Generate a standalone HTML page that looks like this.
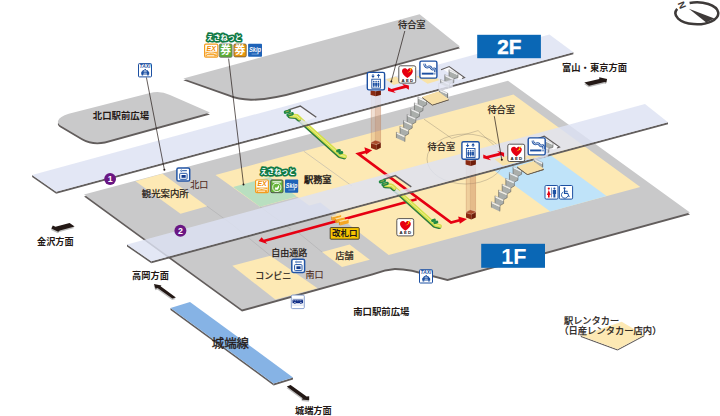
<!DOCTYPE html>
<html lang="ja"><head><meta charset="utf-8"><title>駅構内図</title>
<style>
html,body{margin:0;padding:0;background:#fff;}
body{width:720px;height:416px;overflow:hidden;font-family:"Liberation Sans","Noto Sans CJK JP",sans-serif;}
svg{display:block;}
svg text{font-family:"Liberation Sans","Noto Sans CJK JP",sans-serif;}
</style></head>
<body>
<svg width="720" height="416" viewBox="0 0 720 416">
<rect width="720" height="416" fill="#fff"/>
<path d="M58,121 Q59.5,116.5 68.75,113.75 L150,93 Q160,90.3 170,95 L210,112.6 L105,141.6 Q92,144.2 82,138.3 L60.5,125.6 Q57.2,123.4 58,121 Z" fill="#625d5c" transform="translate(0,1.9)"/>
<path d="M58,121 Q59.5,116.5 68.75,113.75 L150,93 Q160,90.3 170,95 L210,112.6 L105,141.6 Q92,144.2 82,138.3 L60.5,125.6 Q57.2,123.4 58,121 Z" fill="#c9c9ca"/>
<path d="M183.3,78.4 L419.6,14.2 L460,46.4 L300,90.3 Q272,98.6 251,98.8 Q238,98.3 229,94.6 Z" fill="#625d5c" transform="translate(0,1.9)"/>
<path d="M183.3,78.4 L419.6,14.2 L460,46.4 L300,90.3 Q272,98.6 251,98.8 Q238,98.3 229,94.6 Z" fill="#c9c9ca"/>
<path d="M84,194.6 L508,80.8 L690,212.5 L447.5,278.9 L412,269.8 L403,268.4 L395,268.1 L385,269.4 L372,273.4 L242,309.6 Z" fill="#625d5c" transform="translate(0,2.0)"/>
<path d="M84,194.6 L508,80.8 L690,212.5 L447.5,278.9 L412,269.8 L403,268.4 L395,268.1 L385,269.4 L372,273.4 L242,309.6 Z" fill="#c9c9ca"/>
<polygon points="135.5,181.2 162.5,173.8 207,206.2 180.5,213.7" fill="#fde9b4" />
<polygon points="215.5,175 513.4,94.6 640.3,187 388.7,255 320.3,202.5 309.2,205.5 297.2,196.8 260,206.8" fill="#fde9b4" />
<polygon points="232.3,265.8 270.4,255.7 317.5,288.3 275.3,299.6" fill="#fde9b4" />
<polygon points="322.1,252.1 349.6,244.6 369.8,259.7 342,267" fill="#fde9b4" />
<polygon points="233.1,186.9 270,176.9 296.9,196.6 260,206.8" fill="#b9dfc0" />
<polygon points="491.4,168.6 547.9,153.3 606.6,196.1 550.3,211.5" fill="#bfe3f9" />
<path d="M303.75,151.20 L352.00,186.00" stroke="#a9a9aa" stroke-width="0.5" fill="none"/>
<ellipse cx="465.5" cy="159" rx="38.5" ry="25" stroke="#7d7468" stroke-width="0.4" fill="none" stroke-opacity="0.85"/>
<path d="M424,119.2 L451.7,138.4 L478.1,130.6 L496,147.2" stroke="#7d7468" stroke-width="0.4" fill="none" stroke-opacity="0.85"/>
<path d="M207.00,206.20 L232.30,224.60" stroke="#a9a9aa" stroke-width="0.5" fill="none"/>
<path d="M260.00,206.80 L291.00,229.30" stroke="#a9a9aa" stroke-width="0.5" fill="none"/>
<path d="M232.30,224.60 L270.40,255.70" stroke="#a9a9aa" stroke-width="0.5" fill="none"/>
<path d="M297.50,232.00 L322.10,252.10" stroke="#a9a9aa" stroke-width="0.5" fill="none"/>
<path d="M368.0,151.3 L358.3,153.9 L451.1,222.5 L460.5,220.0" fill="none" stroke="#e60012" stroke-width="2.7" stroke-linejoin="miter"/>
<polygon points="372.2,150.2 364.4,147.2 366,154.6" fill="#e60012" />
<polygon points="467,218.9 458.2,216.4 459.8,223.7" fill="#e60012" />
<path d="M416.6,199.2 L263.8,241.0" fill="none" stroke="#e60012" stroke-width="2.7" stroke-linejoin="miter"/>
<polygon points="258.6,241 261.6,237.2 267.3,244" fill="#e60012" />
<polygon points="331.3,216.2 332.5,217.2 332.5,220.8 331.3,219.8" fill="#dd8c14" />
<polygon points="332.5,217.2 341.1,214.9 341.1,218.5 332.5,220.8" fill="#f5a623" />
<polygon points="331.3,216.2 339.9,213.9 341.1,214.9 332.5,217.2" fill="#fde3a6" />
<polygon points="335.1,218.6 336.3,219.6 336.3,223.2 335.1,222.2" fill="#dd8c14" />
<polygon points="336.3,219.6 344.9,217.3 344.9,220.9 336.3,223.2" fill="#f5a623" />
<polygon points="335.1,218.6 343.7,216.3 344.9,217.3 336.3,219.6" fill="#fde3a6" />
<polygon points="338.9,221 340.1,222 340.1,225.6 338.9,224.6" fill="#dd8c14" />
<polygon points="340.1,222 348.7,219.7 348.7,223.3 340.1,225.6" fill="#f5a623" />
<polygon points="338.9,221 347.5,218.7 348.7,219.7 340.1,222" fill="#fde3a6" />
<polygon points="288.5,109.9 300.3,106 316.3,117.3 304.5,121.2" fill="#f1f2fa" />
<polygon points="418,98.4 426.6,102.3 426.6,104.7 423,106.65 418,104.38" fill="#aaaeab" />
<polygon points="418,96.9 426.6,100.8 426.6,102.3 418,98.4" fill="#f2f2f2" />
<path d="M418.00,96.90 L418.00,104.38 M426.60,100.80 L426.60,104.70 L423.00,106.65" fill="none" stroke="#4c4c4d" stroke-width="0.5"/>
<path d="M418.00,96.90 L426.60,100.80" fill="none" stroke="#4c4c4d" stroke-width="0.3" stroke-opacity="0.6"/>
<polygon points="414.4,104.25 423,108.15 423,110.55 419.4,112.5 414.4,110.23" fill="#aaaeab" />
<polygon points="414.4,102.75 423,106.65 423,108.15 414.4,104.25" fill="#f2f2f2" />
<path d="M414.40,102.75 L414.40,110.23 M423.00,106.65 L423.00,110.55 L419.40,112.50" fill="none" stroke="#4c4c4d" stroke-width="0.5"/>
<path d="M414.40,102.75 L423.00,106.65" fill="none" stroke="#4c4c4d" stroke-width="0.3" stroke-opacity="0.6"/>
<polygon points="410.8,110.1 419.4,114 419.4,116.4 415.8,118.35 410.8,116.08" fill="#aaaeab" />
<polygon points="410.8,108.6 419.4,112.5 419.4,114 410.8,110.1" fill="#f2f2f2" />
<path d="M410.80,108.60 L410.80,116.08 M419.40,112.50 L419.40,116.40 L415.80,118.35" fill="none" stroke="#4c4c4d" stroke-width="0.5"/>
<path d="M410.80,108.60 L419.40,112.50" fill="none" stroke="#4c4c4d" stroke-width="0.3" stroke-opacity="0.6"/>
<polygon points="407.2,115.95 415.8,119.85 415.8,122.25 412.2,124.2 407.2,121.93" fill="#aaaeab" />
<polygon points="407.2,114.45 415.8,118.35 415.8,119.85 407.2,115.95" fill="#f2f2f2" />
<path d="M407.20,114.45 L407.20,121.93 M415.80,118.35 L415.80,122.25 L412.20,124.20" fill="none" stroke="#4c4c4d" stroke-width="0.5"/>
<path d="M407.20,114.45 L415.80,118.35" fill="none" stroke="#4c4c4d" stroke-width="0.3" stroke-opacity="0.6"/>
<polygon points="403.6,121.8 412.2,125.7 412.2,128.1 408.6,130.05 403.6,127.78" fill="#aaaeab" />
<polygon points="403.6,120.3 412.2,124.2 412.2,125.7 403.6,121.8" fill="#f2f2f2" />
<path d="M403.60,120.30 L403.60,127.78 M412.20,124.20 L412.20,128.10 L408.60,130.05" fill="none" stroke="#4c4c4d" stroke-width="0.5"/>
<path d="M403.60,120.30 L412.20,124.20" fill="none" stroke="#4c4c4d" stroke-width="0.3" stroke-opacity="0.6"/>
<polygon points="400,127.65 408.6,131.55 408.6,133.95 405,135.9 400,133.63" fill="#aaaeab" />
<polygon points="400,126.15 408.6,130.05 408.6,131.55 400,127.65" fill="#f2f2f2" />
<path d="M400.00,126.15 L400.00,133.63 M408.60,130.05 L408.60,133.95 L405.00,135.90" fill="none" stroke="#4c4c4d" stroke-width="0.5"/>
<path d="M400.00,126.15 L408.60,130.05" fill="none" stroke="#4c4c4d" stroke-width="0.3" stroke-opacity="0.6"/>
<polygon points="396.4,133.5 405,137.4 405,139.8 404.8,141.8 396.4,137.9" fill="#aaaeab" />
<polygon points="396.4,132 405,135.9 405,137.4 396.4,133.5" fill="#f2f2f2" />
<path d="M396.40,132.00 L396.40,137.90 M405.00,135.90 L405.00,139.80 L404.80,141.80" fill="none" stroke="#4c4c4d" stroke-width="0.5"/>
<path d="M396.40,132.00 L405.00,135.90" fill="none" stroke="#4c4c4d" stroke-width="0.3" stroke-opacity="0.6"/>
<polygon points="439.6,90.9 447.6,94.6 447.6,97 447.4,97.8 439.6,94.1" fill="#aaaeab" />
<polygon points="439.6,89.4 447.6,93.1 447.6,94.6 439.6,90.9" fill="#f2f2f2" />
<path d="M439.60,89.40 L439.60,94.10 M447.60,93.10 L447.60,97.00 L447.40,97.80" fill="none" stroke="#4c4c4d" stroke-width="0.5"/>
<path d="M439.60,89.40 L447.60,93.10" fill="none" stroke="#4c4c4d" stroke-width="0.3" stroke-opacity="0.6"/>
<polygon points="422.3,97 432.4,104.4 432.4,105.5 422.3,98.1" fill="#6b5f50" />
<polygon points="432.4,104.4 448.6,99.2 448.6,100.3 432.4,105.5" fill="#6b5f50" />
<polygon points="422.3,97 438.6,91.6 448.6,99.2 432.4,104.4" fill="#f7dfa6" />
<rect x="371.0" y="95.5" width="4.4" height="47.0" fill="#c9865a" fill-opacity="0.26"/>
<rect x="375.4" y="95.5" width="5.4" height="45.8" fill="#c9865a" fill-opacity="0.46"/>
<path d="M371.2,95.5 V141.5" stroke="#b5704a" stroke-opacity="0.5" stroke-width="0.45" fill="none"/>
<path d="M375.4,95.5 V141.5" stroke="#b5704a" stroke-opacity="0.5" stroke-width="0.45" fill="none"/>
<path d="M380.6,95.5 V141.5" stroke="#b5704a" stroke-opacity="0.5" stroke-width="0.45" fill="none"/>
<polygon points="371,142.6 376.3,144.4 376.3,150 371,148" fill="#8a2a12" />
<polygon points="376.3,144.4 380.8,142.2 380.8,147.8 376.3,150" fill="#6f1d0a" />
<polygon points="371,142.4 375.3,140.2 380.8,141.8 380.8,142.6 376.3,144.6 371,143.2" fill="#a94a2a" stroke="#e9c9b8" stroke-width="0.4"/>
<path d="M289.8,116.3 L295.9,116.8 L339.5,155.9 L344.1,157.2" fill="none" stroke="#2f7d3c" stroke-width="4.5" stroke-linecap="round" stroke-linejoin="round"/>
<path d="M290.6,115.6 L296.8,116.0 L340.4,155.2 L345.0,156.4" fill="none" stroke="#d5e04a" stroke-width="3.8" stroke-linecap="round" stroke-linejoin="round"/>
<path d="M290.6,115.6 L296.8,116.0 L340.4,155.2 L345.0,156.4" fill="none" stroke="#eef39a" stroke-width="0.9" stroke-linecap="round" stroke-linejoin="round"/>
<path d="M337.6,151.0 L339.4,150.5" fill="none" stroke="#1f8a44" stroke-width="3.0" stroke-linecap="round"/>
<path d="M339.8,153.0 L341.8,152.5" fill="none" stroke="#1f8a44" stroke-width="3.0" stroke-linecap="round"/>
<polygon points="513,168 521.6,171.9 521.6,174.3 518,176.25 513,173.98" fill="#aaaeab" />
<polygon points="513,166.5 521.6,170.4 521.6,171.9 513,168" fill="#f2f2f2" />
<path d="M513.00,166.50 L513.00,173.98 M521.60,170.40 L521.60,174.30 L518.00,176.25" fill="none" stroke="#4c4c4d" stroke-width="0.5"/>
<path d="M513.00,166.50 L521.60,170.40" fill="none" stroke="#4c4c4d" stroke-width="0.3" stroke-opacity="0.6"/>
<polygon points="509.4,173.85 518,177.75 518,180.15 514.4,182.1 509.4,179.83" fill="#aaaeab" />
<polygon points="509.4,172.35 518,176.25 518,177.75 509.4,173.85" fill="#f2f2f2" />
<path d="M509.40,172.35 L509.40,179.83 M518.00,176.25 L518.00,180.15 L514.40,182.10" fill="none" stroke="#4c4c4d" stroke-width="0.5"/>
<path d="M509.40,172.35 L518.00,176.25" fill="none" stroke="#4c4c4d" stroke-width="0.3" stroke-opacity="0.6"/>
<polygon points="505.8,179.7 514.4,183.6 514.4,186 510.8,187.95 505.8,185.68" fill="#aaaeab" />
<polygon points="505.8,178.2 514.4,182.1 514.4,183.6 505.8,179.7" fill="#f2f2f2" />
<path d="M505.80,178.20 L505.80,185.68 M514.40,182.10 L514.40,186.00 L510.80,187.95" fill="none" stroke="#4c4c4d" stroke-width="0.5"/>
<path d="M505.80,178.20 L514.40,182.10" fill="none" stroke="#4c4c4d" stroke-width="0.3" stroke-opacity="0.6"/>
<polygon points="502.2,185.55 510.8,189.45 510.8,191.85 507.2,193.8 502.2,191.53" fill="#aaaeab" />
<polygon points="502.2,184.05 510.8,187.95 510.8,189.45 502.2,185.55" fill="#f2f2f2" />
<path d="M502.20,184.05 L502.20,191.53 M510.80,187.95 L510.80,191.85 L507.20,193.80" fill="none" stroke="#4c4c4d" stroke-width="0.5"/>
<path d="M502.20,184.05 L510.80,187.95" fill="none" stroke="#4c4c4d" stroke-width="0.3" stroke-opacity="0.6"/>
<polygon points="498.6,191.4 507.2,195.3 507.2,197.7 503.6,199.65 498.6,197.38" fill="#aaaeab" />
<polygon points="498.6,189.9 507.2,193.8 507.2,195.3 498.6,191.4" fill="#f2f2f2" />
<path d="M498.60,189.90 L498.60,197.38 M507.20,193.80 L507.20,197.70 L503.60,199.65" fill="none" stroke="#4c4c4d" stroke-width="0.5"/>
<path d="M498.60,189.90 L507.20,193.80" fill="none" stroke="#4c4c4d" stroke-width="0.3" stroke-opacity="0.6"/>
<polygon points="495,197.25 503.6,201.15 503.6,203.55 500,205.5 495,203.23" fill="#aaaeab" />
<polygon points="495,195.75 503.6,199.65 503.6,201.15 495,197.25" fill="#f2f2f2" />
<path d="M495.00,195.75 L495.00,203.23 M503.60,199.65 L503.60,203.55 L500.00,205.50" fill="none" stroke="#4c4c4d" stroke-width="0.5"/>
<path d="M495.00,195.75 L503.60,199.65" fill="none" stroke="#4c4c4d" stroke-width="0.3" stroke-opacity="0.6"/>
<polygon points="491.4,203.1 500,207 500,209.4 499.8,211.4 491.4,207.5" fill="#aaaeab" />
<polygon points="491.4,201.6 500,205.5 500,207 491.4,203.1" fill="#f2f2f2" />
<path d="M491.40,201.60 L491.40,207.50 M500.00,205.50 L500.00,209.40 L499.80,211.40" fill="none" stroke="#4c4c4d" stroke-width="0.5"/>
<path d="M491.40,201.60 L500.00,205.50" fill="none" stroke="#4c4c4d" stroke-width="0.3" stroke-opacity="0.6"/>
<polygon points="534.6,160.5 542.6,164.2 542.6,166.6 542.4,167.4 534.6,163.7" fill="#aaaeab" />
<polygon points="534.6,159 542.6,162.7 542.6,164.2 534.6,160.5" fill="#f2f2f2" />
<path d="M534.60,159.00 L534.60,163.70 M542.60,162.70 L542.60,166.60 L542.40,167.40" fill="none" stroke="#4c4c4d" stroke-width="0.5"/>
<path d="M534.60,159.00 L542.60,162.70" fill="none" stroke="#4c4c4d" stroke-width="0.3" stroke-opacity="0.6"/>
<polygon points="517.3,166.6 527.4,174 527.4,175.1 517.3,167.7" fill="#6b5f50" />
<polygon points="527.4,174 543.6,168.8 543.6,169.9 527.4,175.1" fill="#6b5f50" />
<polygon points="517.3,166.6 533.6,161.2 543.6,168.8 527.4,174" fill="#f7dfa6" />
<rect x="466.0" y="165.1" width="4.4" height="47.0" fill="#c9865a" fill-opacity="0.26"/>
<rect x="470.4" y="165.1" width="5.4" height="45.8" fill="#c9865a" fill-opacity="0.46"/>
<path d="M466.2,165.1 V211.1" stroke="#b5704a" stroke-opacity="0.5" stroke-width="0.45" fill="none"/>
<path d="M470.4,165.1 V211.1" stroke="#b5704a" stroke-opacity="0.5" stroke-width="0.45" fill="none"/>
<path d="M475.6,165.1 V211.1" stroke="#b5704a" stroke-opacity="0.5" stroke-width="0.45" fill="none"/>
<polygon points="466,212.2 471.3,214 471.3,219.6 466,217.6" fill="#8a2a12" />
<polygon points="471.3,214 475.8,211.8 475.8,217.4 471.3,219.6" fill="#6f1d0a" />
<polygon points="466,212 470.3,209.8 475.8,211.4 475.8,212.2 471.3,214.2 466,212.8" fill="#a94a2a" stroke="#e9c9b8" stroke-width="0.4"/>
<path d="M384.8,185.9 L390.9,186.3 L434.5,225.5 L439.1,226.8" fill="none" stroke="#2f7d3c" stroke-width="4.5" stroke-linecap="round" stroke-linejoin="round"/>
<path d="M385.6,185.2 L391.8,185.6 L435.4,224.8 L440.0,226.0" fill="none" stroke="#d5e04a" stroke-width="3.8" stroke-linecap="round" stroke-linejoin="round"/>
<path d="M385.6,185.2 L391.8,185.6 L435.4,224.8 L440.0,226.0" fill="none" stroke="#eef39a" stroke-width="0.9" stroke-linecap="round" stroke-linejoin="round"/>
<path d="M432.6,220.6 L434.4,220.1" fill="none" stroke="#1f8a44" stroke-width="3.0" stroke-linecap="round"/>
<path d="M434.8,222.6 L436.8,222.1" fill="none" stroke="#1f8a44" stroke-width="3.0" stroke-linecap="round"/>
<polygon points="56.2,191.7 573.4,52.3 573.4,54.3 56.2,193.7" fill="#625e5d" />
<polygon points="32.1,174.9 56.2,191.7 56.2,193.7 32.1,176.9" fill="#625e5d" />
<path d="M32.1,174.9 L549.4,34.4 L573.4,52.3 L56.2,191.7 Z M288.5,109.9 L300.3,106 L316.3,117.3 L304.5,121.2 Z" fill="rgb(221,226,243)" fill-opacity="0.82" fill-rule="evenodd"/>
<polygon points="151.3,261.2 668,122.2 668,124.2 151.3,263.2" fill="#625e5d" />
<polygon points="127,244.5 151.3,261.2 151.3,263.2 127,246.5" fill="#625e5d" />
<path d="M127,244.5 L645,104 L668,122.2 L151.3,261.2 Z M383.5,179.5 L395.3,175.6 L411.3,186.9 L399.5,190.8 Z" fill="rgb(221,226,243)" fill-opacity="0.82" fill-rule="evenodd"/>
<polygon points="439.6,90.9 447.6,94.6 447.6,97 447.4,97.8 439.6,94.1" fill="#aaaeab" />
<polygon points="439.6,89.4 447.6,93.1 447.6,94.6 439.6,90.9" fill="#f2f2f2" />
<path d="M439.60,89.40 L439.60,94.10 M447.60,93.10 L447.60,97.00 L447.40,97.80" fill="none" stroke="#4c4c4d" stroke-width="0.5"/>
<path d="M439.60,89.40 L447.60,93.10" fill="none" stroke="#4c4c4d" stroke-width="0.3" stroke-opacity="0.6"/>
<polygon points="534.6,160.5 542.6,164.2 542.6,166.6 542.4,167.4 534.6,163.7" fill="#aaaeab" />
<polygon points="534.6,159 542.6,162.7 542.6,164.2 534.6,160.5" fill="#f2f2f2" />
<path d="M534.60,159.00 L534.60,163.70 M542.60,162.70 L542.60,166.60 L542.40,167.40" fill="none" stroke="#4c4c4d" stroke-width="0.5"/>
<path d="M534.60,159.00 L542.60,162.70" fill="none" stroke="#4c4c4d" stroke-width="0.3" stroke-opacity="0.6"/>
<polygon points="422.3,97 432.4,104.4 432.4,105.5 422.3,98.1" fill="#6b5f50" />
<polygon points="432.4,104.4 448.6,99.2 448.6,100.3 432.4,105.5" fill="#6b5f50" />
<polygon points="422.3,97 438.6,91.6 448.6,99.2 432.4,104.4" fill="#f7dfa6" />
<polygon points="517.3,166.6 527.4,174 527.4,175.1 517.3,167.7" fill="#6b5f50" />
<polygon points="527.4,174 543.6,168.8 543.6,169.9 527.4,175.1" fill="#6b5f50" />
<polygon points="517.3,166.6 533.6,161.2 543.6,168.8 527.4,174" fill="#f7dfa6" />
<path d="M288.5,109.9 L300.3,106.0 L316.3,117.3" fill="none" stroke="#5f5b5b" stroke-width="1.4"/>
<path d="M289.8,116.3 L295.9,116.8 L298.8,119.2" fill="none" stroke="#2f7d3c" stroke-width="4.5" stroke-linecap="round" stroke-linejoin="round"/>
<path d="M290.6,115.6 L296.8,116.0 L299.6,118.5" fill="none" stroke="#d5e04a" stroke-width="3.8" stroke-linecap="round" stroke-linejoin="round"/>
<path d="M290.6,115.6 L296.8,116.0 L299.6,118.5" fill="none" stroke="#eef39a" stroke-width="0.9" stroke-linecap="round" stroke-linejoin="round"/>
<path d="M285.4,112.2 L289.4,111.1" fill="none" stroke="#1f8a44" stroke-width="3.3" stroke-linecap="round"/>
<path d="M288.0,115.0 L292.2,113.8" fill="none" stroke="#1f8a44" stroke-width="3.3" stroke-linecap="round"/>
<path d="M285.6,111.9 L289.0,111.0" fill="none" stroke="#d9b44a" stroke-width="0.7"/>
<path d="M288.4,114.7 L291.8,113.8" fill="none" stroke="#d9b44a" stroke-width="0.7"/>
<polygon points="443,68.9 449.2,66.6 464.6,77.5 458.4,79.8" fill="#fbfbfd" />
<polygon points="449,71.1 458,75.3 458,77.7 453.8,78.7 449,76.46" fill="#aaaeab" />
<polygon points="449,69.6 458,73.8 458,75.3 449,71.1" fill="#f2f2f2" />
<path d="M449.00,69.60 L449.00,76.46 M458.00,73.80 L458.00,77.70 L453.80,78.70" fill="none" stroke="#4c4c4d" stroke-width="0.5"/>
<path d="M449.00,69.60 L458.00,73.80" fill="none" stroke="#4c4c4d" stroke-width="0.3" stroke-opacity="0.6"/>
<polygon points="444.8,76 453.8,80.2 453.8,82.6 449.6,83.6 444.8,81.36" fill="#aaaeab" />
<polygon points="444.8,74.5 453.8,78.7 453.8,80.2 444.8,76" fill="#f2f2f2" />
<path d="M444.80,74.50 L444.80,81.36 M453.80,78.70 L453.80,82.60 L449.60,83.60" fill="none" stroke="#4c4c4d" stroke-width="0.5"/>
<path d="M444.80,74.50 L453.80,78.70" fill="none" stroke="#4c4c4d" stroke-width="0.3" stroke-opacity="0.6"/>
<polygon points="440.6,80.9 449.6,85.1 449.6,87.5 449.4,88.1 440.6,83.9" fill="#aaaeab" />
<polygon points="440.6,79.4 449.6,83.6 449.6,85.1 440.6,80.9" fill="#f2f2f2" />
<path d="M440.60,79.40 L440.60,83.90 M449.60,83.60 L449.60,87.50 L449.40,88.10" fill="none" stroke="#4c4c4d" stroke-width="0.5"/>
<path d="M440.60,79.40 L449.60,83.60" fill="none" stroke="#4c4c4d" stroke-width="0.3" stroke-opacity="0.6"/>
<polygon points="438.8,83.4 452.8,79.4 452.8,87 438.8,91" fill="#e6e9f5" fill-opacity="0.8" stroke="#c9cbd6" stroke-width="0.4"/>
<path d="M441.0,69.7 L449.2,66.6 L464.6,77.5 L462.0,78.5" fill="none" stroke="#5f5b5b" stroke-width="1.1"/>
<polygon points="370.6,90.4 375.8,91.2 375.8,96.3 370.6,95" fill="#8a2a12" />
<polygon points="375.8,91.2 380.9,90.4 380.9,95 375.8,96.3" fill="#6f1d0a" />
<path d="M383.5,179.5 L395.3,175.6 L411.3,186.9" fill="none" stroke="#5f5b5b" stroke-width="1.4"/>
<path d="M384.8,185.9 L390.9,186.3 L393.8,188.8" fill="none" stroke="#2f7d3c" stroke-width="4.5" stroke-linecap="round" stroke-linejoin="round"/>
<path d="M385.6,185.2 L391.8,185.6 L394.6,188.1" fill="none" stroke="#d5e04a" stroke-width="3.8" stroke-linecap="round" stroke-linejoin="round"/>
<path d="M385.6,185.2 L391.8,185.6 L394.6,188.1" fill="none" stroke="#eef39a" stroke-width="0.9" stroke-linecap="round" stroke-linejoin="round"/>
<path d="M380.4,181.8 L384.4,180.7" fill="none" stroke="#1f8a44" stroke-width="3.3" stroke-linecap="round"/>
<path d="M383.0,184.6 L387.2,183.4" fill="none" stroke="#1f8a44" stroke-width="3.3" stroke-linecap="round"/>
<path d="M380.6,181.5 L384.0,180.6" fill="none" stroke="#d9b44a" stroke-width="0.7"/>
<path d="M383.4,184.3 L386.8,183.4" fill="none" stroke="#d9b44a" stroke-width="0.7"/>
<polygon points="538,138.5 544.2,136.2 559.6,147.1 553.4,149.4" fill="#fbfbfd" />
<polygon points="544,140.7 553,144.9 553,147.3 548.8,148.3 544,146.06" fill="#aaaeab" />
<polygon points="544,139.2 553,143.4 553,144.9 544,140.7" fill="#f2f2f2" />
<path d="M544.00,139.20 L544.00,146.06 M553.00,143.40 L553.00,147.30 L548.80,148.30" fill="none" stroke="#4c4c4d" stroke-width="0.5"/>
<path d="M544.00,139.20 L553.00,143.40" fill="none" stroke="#4c4c4d" stroke-width="0.3" stroke-opacity="0.6"/>
<polygon points="539.8,145.6 548.8,149.8 548.8,152.2 544.6,153.2 539.8,150.96" fill="#aaaeab" />
<polygon points="539.8,144.1 548.8,148.3 548.8,149.8 539.8,145.6" fill="#f2f2f2" />
<path d="M539.80,144.10 L539.80,150.96 M548.80,148.30 L548.80,152.20 L544.60,153.20" fill="none" stroke="#4c4c4d" stroke-width="0.5"/>
<path d="M539.80,144.10 L548.80,148.30" fill="none" stroke="#4c4c4d" stroke-width="0.3" stroke-opacity="0.6"/>
<polygon points="535.6,150.5 544.6,154.7 544.6,157.1 544.4,157.7 535.6,153.5" fill="#aaaeab" />
<polygon points="535.6,149 544.6,153.2 544.6,154.7 535.6,150.5" fill="#f2f2f2" />
<path d="M535.60,149.00 L535.60,153.50 M544.60,153.20 L544.60,157.10 L544.40,157.70" fill="none" stroke="#4c4c4d" stroke-width="0.5"/>
<path d="M535.60,149.00 L544.60,153.20" fill="none" stroke="#4c4c4d" stroke-width="0.3" stroke-opacity="0.6"/>
<polygon points="533.8,153 547.8,149 547.8,156.6 533.8,160.6" fill="#e6e9f5" fill-opacity="0.8" stroke="#c9cbd6" stroke-width="0.4"/>
<path d="M536.0,139.3 L544.2,136.2 L559.6,147.1 L557.0,148.1" fill="none" stroke="#5f5b5b" stroke-width="1.1"/>
<polygon points="465.6,160 470.8,160.8 470.8,165.9 465.6,164.6" fill="#8a2a12" />
<polygon points="470.8,160.8 475.9,160 475.9,164.6 470.8,165.9" fill="#6f1d0a" />
<polygon points="385.9,79.6 395.9,76.6 403.5,82 393.7,85.1" fill="#f9e3a8" />
<polygon points="416.2,76.6 428.7,72.7 439.8,79.9 427.6,83.8" fill="#f9e3a8" />
<polygon points="494.5,159.2 519,152.5 527.5,159.1 503,165.8" fill="#f9e3a8" />
<polygon points="525,156.4 537.5,152.3 542.8,155.8 529.7,159.3" fill="#f9e3a8" />
<polygon points="388.05,87.2 391.4,88.9 403.9,85.5 401.9,83.8 408.9,85.5 408.9,89.7 406.1,88 393.6,91 395.8,93 388.05,91.05" fill="#e60012" />
<polygon points="483.25,154.4 486.6,156.1 499.1,152.7 497.1,151 504.1,152.7 504.1,156.9 501.3,155.2 488.8,158.2 491,160.2 483.25,158.25" fill="#e60012" />
<polygon points="170.5,308 273.6,383.4 273.6,385.4 170.5,310" fill="#625d5c" />
<polygon points="273.6,383.4 293,377.4 293,379.4 273.6,385.4" fill="#625d5c" />
<polygon points="170.5,308 190,302 293,377.4 273.6,383.4" fill="#86b3e5" />
<polygon points="580.8,335.8 617.5,349.2 617.5,350.5 580.8,337.1" fill="#625d5c" />
<polygon points="617.5,349.2 644.2,335 644.2,336.3 617.5,350.5" fill="#625d5c" />
<polygon points="580.8,335.8 621.7,321.7 644.2,335 617.5,349.2" fill="#fde9b4" />
<polygon points="69.3,224.5 74.3,227.9 59.5,231.9 57.9,233.3 51,230.1 52.5,227.1 55.2,228.3" fill="#bdbdbd" />
<polygon points="69.6,223 74.6,226.4 59.8,230.4 58.2,231.8 51.3,228.6 52.8,225.6 55.5,226.8" fill="#231815" />
<polygon points="153.6,285.4 161.2,286.9 160.3,287.8 175.6,298.9 172.1,299.9 157.3,289.5 155.3,290.3" fill="#bdbdbd" />
<polygon points="153.9,283.9 161.5,285.4 160.6,286.3 175.9,297.4 172.4,298.4 157.6,288 155.6,288.8" fill="#231815" />
<polygon points="584,84.1 599,80.5 599,78.7 606.8,80.4 606,84 604.2,83.5 588.7,87.2" fill="#bdbdbd" />
<polygon points="584.3,82.6 599.3,79 599.3,77.2 607.1,78.9 606.3,82.5 604.5,82 589,85.7" fill="#231815" />
<polygon points="290.3,386.6 306.3,398 308.9,397.7 308.9,401.8 301.2,401 302.5,399.7 286.5,387.9" fill="#bdbdbd" />
<polygon points="290.6,385.1 306.6,396.5 309.2,396.2 309.2,400.3 301.5,399.5 302.8,398.2 286.8,386.4" fill="#231815" />
<path d="M689.6,2.9 A21.4,11.0 0 1 1 677.2,8.9" fill="none" stroke="#3e3a39" stroke-width="2.5"/>
<path d="M688.9,8.7 L714.4,18.6 L706.2,22.6 Z" fill="#3e3a39"/>
<text transform="translate(681.9,5.1) rotate(67)" x="0" y="3.4" font-size="9.6" font-weight="bold" text-anchor="middle" fill="#3e3a39">N</text>
<rect x="477.2" y="34.8" width="63.7" height="23.4" fill="#0a67b5"/>
<text x="509.3" y="53.9" font-size="20.6" font-weight="bold" text-anchor="middle" fill="#fff" stroke="#fff" stroke-width="0.5">2F</text>
<rect x="481.2" y="243.8" width="63.8" height="24.0" fill="#0a67b5"/>
<text x="513.9" y="263.6" font-size="21.6" font-weight="bold" text-anchor="middle" fill="#fff">1F</text>
<path d="M146.4,77.4 L164.4,169.8" stroke="#231815" stroke-width="0.7" fill="none"/>
<circle cx="164.4" cy="169.8" r="1.0" fill="#231815"/>
<path d="M228.6,58.6 L243.5,184.4" stroke="#231815" stroke-width="0.7" fill="none"/>
<circle cx="243.5" cy="184.4" r="1.0" fill="#231815"/>
<path d="M404.8,31.0 L391.3,81.4" stroke="#231815" stroke-width="0.7" fill="none"/>
<circle cx="391.3" cy="81.4" r="1.0" fill="#231815"/>
<path d="M494.3,116.2 L501.8,159.8" stroke="#231815" stroke-width="0.7" fill="none"/>
<circle cx="501.8" cy="159.8" r="1.0" fill="#231815"/>
<rect x="367.30" y="72.40" width="17.30" height="17.50" rx="1.6" fill="#fff" stroke="#1d50a2" stroke-width="1.4"/>
<g transform="translate(366.60,71.70) scale(1.000,1.000)">
<path d="M6.4,2.3 V5.4 M11.9,6.1 V3.0" fill="none" stroke="#1d50a2" stroke-width="0.9"/>
<path d="M4.6,4.0 H8.2 L6.4,6.3 Z M10.1,4.4 H13.7 L11.9,2.1 Z" fill="#1d50a2"/>
<rect x="5.2" y="7.5" width="8.6" height="9.0" fill="#fff" stroke="#1d50a2" stroke-width="0.9"/>
<circle cx="7.2" cy="9.9" r="0.8" fill="#1d50a2"/><path d="M6.25,11.0 H8.15 V14.0 H7.75 V15.6 H6.65 V14.0 H6.25 Z" fill="#1d50a2"/>
<circle cx="9.5" cy="9.9" r="0.8" fill="#1d50a2"/><path d="M8.55,11.0 H10.45 V14.0 H10.05 V15.6 H8.95 V14.0 H8.55 Z" fill="#1d50a2"/>
<circle cx="11.8" cy="9.9" r="0.8" fill="#1d50a2"/><path d="M10.850000000000001,11.0 H12.75 V14.0 H12.350000000000001 V15.6 H11.25 V14.0 H10.850000000000001 Z" fill="#1d50a2"/>
</g>
<rect x="398.80" y="65.80" width="16.90" height="17.30" rx="1.7" fill="#fff" stroke="#4a4645" stroke-width="0.9"/>
<g transform="translate(398.40,65.40) scale(1.000,1.000)">
<path d="M9.0,12.6 C5.4,9.9 3.6,8.0 3.6,5.8 C3.6,4.0 4.9,2.9 6.4,2.9 C7.5,2.9 8.5,3.5 9.0,4.5 C9.5,3.5 10.5,2.9 11.6,2.9 C13.1,2.9 14.4,4.0 14.4,5.8 C14.4,8.0 12.6,9.9 9.0,12.6 Z" fill="#e60012"/>
<path d="M15.1,0.9 L11.2,4.4 L12.3,4.8 L8.9,7.6 L13.4,5.4 L12.2,5.0 Z" fill="#ffe100"/>
<text x="3.1" y="16.25" font-size="4.3" font-weight="bold" letter-spacing="1.3" fill="#111">AED</text>
</g>
<rect x="419.90" y="61.10" width="17.00" height="17.00" rx="1.6" fill="#fff" stroke="#1d50a2" stroke-width="1.4"/>
<g transform="translate(419.20,60.40) scale(1.000,1.000)">
<rect x="2.6" y="12.3" width="11.2" height="1.9" fill="#1d50a2"/>
<rect x="14.3" y="12.3" width="0.7" height="1.9" fill="#1d50a2"/><rect x="15.4" y="12.3" width="0.7" height="1.9" fill="#1d50a2"/>
<path d="M5.3,3.4 C5.4,6.2 7.6,7.3 9.2,6.5 C10.5,5.8 11.5,6.6 12.1,7.8 C12.7,9.0 13.8,8.9 14.6,8.4 C15.9,7.8 16.3,10.0 16.0,11.7" fill="none" stroke="#1d50a2" stroke-width="2.5" stroke-linecap="butt"/>
<path d="M5.3,3.4 C5.4,6.2 7.6,7.3 9.2,6.5 C10.5,5.8 11.5,6.6 12.1,7.8 C12.7,9.0 13.8,8.9 14.6,8.4 C15.9,7.8 16.3,10.0 16.0,11.7" fill="none" stroke="#fff" stroke-width="0.8" stroke-linecap="butt"/>
</g>
<rect x="461.90" y="141.70" width="17.30" height="17.50" rx="1.6" fill="#fff" stroke="#1d50a2" stroke-width="1.4"/>
<g transform="translate(461.20,141.00) scale(1.000,1.000)">
<path d="M6.4,2.3 V5.4 M11.9,6.1 V3.0" fill="none" stroke="#1d50a2" stroke-width="0.9"/>
<path d="M4.6,4.0 H8.2 L6.4,6.3 Z M10.1,4.4 H13.7 L11.9,2.1 Z" fill="#1d50a2"/>
<rect x="5.2" y="7.5" width="8.6" height="9.0" fill="#fff" stroke="#1d50a2" stroke-width="0.9"/>
<circle cx="7.2" cy="9.9" r="0.8" fill="#1d50a2"/><path d="M6.25,11.0 H8.15 V14.0 H7.75 V15.6 H6.65 V14.0 H6.25 Z" fill="#1d50a2"/>
<circle cx="9.5" cy="9.9" r="0.8" fill="#1d50a2"/><path d="M8.55,11.0 H10.45 V14.0 H10.05 V15.6 H8.95 V14.0 H8.55 Z" fill="#1d50a2"/>
<circle cx="11.8" cy="9.9" r="0.8" fill="#1d50a2"/><path d="M10.850000000000001,11.0 H12.75 V14.0 H12.350000000000001 V15.6 H11.25 V14.0 H10.850000000000001 Z" fill="#1d50a2"/>
</g>
<rect x="507.80" y="144.20" width="16.90" height="17.30" rx="1.7" fill="#fff" stroke="#4a4645" stroke-width="0.9"/>
<g transform="translate(507.40,143.80) scale(1.000,1.000)">
<path d="M9.0,12.6 C5.4,9.9 3.6,8.0 3.6,5.8 C3.6,4.0 4.9,2.9 6.4,2.9 C7.5,2.9 8.5,3.5 9.0,4.5 C9.5,3.5 10.5,2.9 11.6,2.9 C13.1,2.9 14.4,4.0 14.4,5.8 C14.4,8.0 12.6,9.9 9.0,12.6 Z" fill="#e60012"/>
<path d="M15.1,0.9 L11.2,4.4 L12.3,4.8 L8.9,7.6 L13.4,5.4 L12.2,5.0 Z" fill="#ffe100"/>
<text x="3.1" y="16.25" font-size="4.3" font-weight="bold" letter-spacing="1.3" fill="#111">AED</text>
</g>
<rect x="528.20" y="137.90" width="17.00" height="17.00" rx="1.6" fill="#fff" stroke="#1d50a2" stroke-width="1.4"/>
<g transform="translate(527.50,137.20) scale(1.000,1.000)">
<rect x="2.6" y="12.3" width="11.2" height="1.9" fill="#1d50a2"/>
<rect x="14.3" y="12.3" width="0.7" height="1.9" fill="#1d50a2"/><rect x="15.4" y="12.3" width="0.7" height="1.9" fill="#1d50a2"/>
<path d="M5.3,3.4 C5.4,6.2 7.6,7.3 9.2,6.5 C10.5,5.8 11.5,6.6 12.1,7.8 C12.7,9.0 13.8,8.9 14.6,8.4 C15.9,7.8 16.3,10.0 16.0,11.7" fill="none" stroke="#1d50a2" stroke-width="2.5" stroke-linecap="butt"/>
<path d="M5.3,3.4 C5.4,6.2 7.6,7.3 9.2,6.5 C10.5,5.8 11.5,6.6 12.1,7.8 C12.7,9.0 13.8,8.9 14.6,8.4 C15.9,7.8 16.3,10.0 16.0,11.7" fill="none" stroke="#fff" stroke-width="0.8" stroke-linecap="butt"/>
</g>
<rect x="396.80" y="218.60" width="16.90" height="17.30" rx="1.7" fill="#fff" stroke="#4a4645" stroke-width="0.9"/>
<g transform="translate(396.40,218.20) scale(1.000,1.000)">
<path d="M9.0,12.6 C5.4,9.9 3.6,8.0 3.6,5.8 C3.6,4.0 4.9,2.9 6.4,2.9 C7.5,2.9 8.5,3.5 9.0,4.5 C9.5,3.5 10.5,2.9 11.6,2.9 C13.1,2.9 14.4,4.0 14.4,5.8 C14.4,8.0 12.6,9.9 9.0,12.6 Z" fill="#e60012"/>
<path d="M15.1,0.9 L11.2,4.4 L12.3,4.8 L8.9,7.6 L13.4,5.4 L12.2,5.0 Z" fill="#ffe100"/>
<text x="3.1" y="16.25" font-size="4.3" font-weight="bold" letter-spacing="1.3" fill="#111">AED</text>
</g>
<rect x="545.00" y="185.50" width="13.00" height="13.60" rx="1.2" fill="#fff" stroke="#1d50a2" stroke-width="1.0"/>
<rect x="559.40" y="185.50" width="13.20" height="13.60" rx="1.2" fill="#fff" stroke="#1d50a2" stroke-width="1.0"/>
<g transform="translate(544.50,185.00) scale(1.000,1.000)">
<circle cx="4.3" cy="3.6" r="1.1" fill="#e60012"/><path d="M4.3,5.0 L6.2,10.0 H5.1 V12.4 H3.5 V10.0 H2.4 Z" fill="#e60012"/>
<path d="M7.0,2.6 V12.4" stroke="#1d50a2" stroke-width="0.6"/>
<circle cx="9.9" cy="3.6" r="1.1" fill="#1d50a2"/><path d="M8.2,5.0 H11.6 V9.0 H10.9 V12.4 H8.9 V9.0 H8.2 Z" fill="#1d50a2"/>
<circle cx="20.0" cy="3.3" r="1.1" fill="#1d50a2"/>
<path d="M20.0,4.6 V8.4 H23.2 L24.6,11.6 M20.2,6.2 H22.8" fill="none" stroke="#1d50a2" stroke-width="1.1" stroke-linecap="round" stroke-linejoin="round"/>
<path d="M18.9,6.9 A3.3,3.3 0 1 0 23.4,10.9" fill="none" stroke="#1d50a2" stroke-width="0.9"/>
</g>
<rect x="138.50" y="63.60" width="13.00" height="13.30" rx="0.8" fill="#fff" stroke="#1d50a2" stroke-width="1.0"/>
<g transform="translate(138.00,63.10) scale(1.000,1.000)">
<text x="1.6" y="5" font-size="4.9" font-weight="bold" font-style="italic" fill="#1d50a2">TAXI</text>
<path d="M3.2,9.5 Q3.2,8.7 4.0,8.5 L4.8,7.2 Q5.0,6.8 5.6,6.8 H8.8 Q9.4,6.8 9.6,7.2 L10.4,8.5 Q11.2,8.7 11.2,9.5 V11.3 H3.2 Z" fill="#1d50a2"/>
<rect x="3.6" y="11.0" width="1.7" height="1.4" rx="0.4" fill="#1d50a2"/><rect x="9.1" y="11.0" width="1.7" height="1.4" rx="0.4" fill="#1d50a2"/>
<rect x="6.4" y="6.0" width="1.6" height="0.9" fill="#1d50a2"/>
<path d="M5.5,8.4 L6.0,7.5 H8.4 L8.9,8.4 Z" fill="#fff"/><rect x="5.6" y="9.6" width="3.2" height="0.8" rx="0.3" fill="#fff"/>
</g>
<rect x="419.50" y="269.70" width="13.00" height="13.30" rx="0.8" fill="#fff" stroke="#1d50a2" stroke-width="1.0"/>
<g transform="translate(419.00,269.20) scale(1.000,1.000)">
<text x="1.6" y="5" font-size="4.9" font-weight="bold" font-style="italic" fill="#1d50a2">TAXI</text>
<path d="M3.2,9.5 Q3.2,8.7 4.0,8.5 L4.8,7.2 Q5.0,6.8 5.6,6.8 H8.8 Q9.4,6.8 9.6,7.2 L10.4,8.5 Q11.2,8.7 11.2,9.5 V11.3 H3.2 Z" fill="#1d50a2"/>
<rect x="3.6" y="11.0" width="1.7" height="1.4" rx="0.4" fill="#1d50a2"/><rect x="9.1" y="11.0" width="1.7" height="1.4" rx="0.4" fill="#1d50a2"/>
<rect x="6.4" y="6.0" width="1.6" height="0.9" fill="#1d50a2"/>
<path d="M5.5,8.4 L6.0,7.5 H8.4 L8.9,8.4 Z" fill="#fff"/><rect x="5.6" y="9.6" width="3.2" height="0.8" rx="0.3" fill="#fff"/>
</g>
<rect x="176.90" y="167.90" width="12.80" height="13.20" rx="1.6" fill="#fff" stroke="#2356a6" stroke-width="1.5"/>
<g transform="translate(176.10,167.10) scale(1.000,1.000)">
<circle cx="5.3" cy="3.6" r="0.8" fill="none" stroke="#2356a6" stroke-width="0.7"/><path d="M6.2,3.6 H10.8" stroke="#2356a6" stroke-width="1.0"/>
<rect x="3.6" y="6.2" width="7.4" height="6.0" rx="0.8" fill="#fff" stroke="#2356a6" stroke-width="1.0"/>
<rect x="5.4" y="7.9" width="4.2" height="2.8" fill="#123a8c"/>
</g>
<rect x="291.80" y="259.20" width="12.80" height="13.20" rx="1.6" fill="#fff" stroke="#2356a6" stroke-width="1.5"/>
<g transform="translate(291.00,258.40) scale(1.000,1.000)">
<circle cx="5.3" cy="3.6" r="0.8" fill="none" stroke="#2356a6" stroke-width="0.7"/><path d="M6.2,3.6 H10.8" stroke="#2356a6" stroke-width="1.0"/>
<rect x="3.6" y="6.2" width="7.4" height="6.0" rx="0.8" fill="#fff" stroke="#2356a6" stroke-width="1.0"/>
<rect x="5.4" y="7.9" width="4.2" height="2.8" fill="#123a8c"/>
</g>
<rect x="291.30" y="295.10" width="13.00" height="13.50" rx="1.2" fill="#fff" stroke="#6e8cc4" stroke-width="0.8"/>
<g transform="translate(290.90,294.70) scale(1.000,1.000)">
<path d="M1.6,5.6 Q1.6,4.9 2.4,4.9 H11.4 Q12.2,4.9 12.2,5.6 V8.6 H11.0 A1.0,1.0 0 0 0 9.0,8.6 H5.0 A1.0,1.0 0 0 0 3.0,8.6 H1.6 Z" fill="#0b2a85"/>
<circle cx="4.0" cy="8.7" r="0.7" fill="#0b2a85"/><circle cx="10.0" cy="8.7" r="0.7" fill="#0b2a85"/>
<path d="M2.4,6.0 H11.4" stroke="#fff" stroke-width="0.5" stroke-dasharray="1.2 0.5"/>
<path d="M0.9,4.3 H13.0 M0.9,10.4 H13.0" stroke="#a9b9da" stroke-width="0.5"/>
</g>
<text x="206.6" y="40.3" font-size="7.1" font-weight="bold" fill="#fff" stroke="#0f7a45" stroke-width="3.3" stroke-linejoin="round" paint-order="stroke">えきねっと</text>
<rect x="204.60" y="44.20" width="13.20" height="12.90" rx="1.2" fill="#fff" stroke="#f39c1f" stroke-width="1.2"/>
<g transform="translate(204.00,43.60) scale(1.029,1.022)">
<text x="2.4" y="6.9" font-size="6.9" font-weight="bold" font-style="italic" fill="#f08a00">EX</text>
<path d="M1.4,8.0 H12.6 V12.0 Q12.6,12.6 12.0,12.6 H2.0 Q1.4,12.6 1.4,12.0 Z" fill="#f6a834"/>
<path d="M1.6,10.6 Q6.0,7.6 12.4,10.4 M3.0,11.8 H10.0" fill="none" stroke="#fff" stroke-width="0.8"/>
</g>
<rect x="219.30" y="44.00" width="12.80" height="13.30" rx="1.3" fill="#5bab35" stroke="#6d6d6d" stroke-width="0.8"/>
<text x="225.7" y="54.4" font-size="10.8" font-weight="bold" text-anchor="middle" fill="#fff">券</text>
<rect x="233.90" y="44.00" width="12.30" height="12.90" rx="1.3" fill="#e8960e" stroke="#6d5a3a" stroke-width="0.8"/>
<text x="240.0" y="54.2" font-size="10.8" font-weight="bold" text-anchor="middle" fill="#fff">券</text>
<rect x="248.10" y="43.70" width="13.90" height="13.00" rx="0.8" fill="#1e63b8" stroke="none" stroke-width="0"/>
<g transform="translate(248.10,43.70) scale(1.030,0.977)">
<text x="0.9" y="8.7" font-size="6.9" font-weight="bold" font-style="italic" fill="#fff" textLength="11.7" lengthAdjust="spacingAndGlyphs">Skip</text>
<path d="M3.4,10.6 H10.2" stroke="#cfe0f5" stroke-width="0.5"/>
</g>
<text x="260.3" y="174.3" font-size="7.1" font-weight="bold" fill="#fff" stroke="#0f7a45" stroke-width="3.3" stroke-linejoin="round" paint-order="stroke">えきねっと</text>
<rect x="255.60" y="180.00" width="12.80" height="12.60" rx="1.2" fill="#fff" stroke="#f39c1f" stroke-width="1.2"/>
<g transform="translate(255.00,179.40) scale(1.000,1.000)">
<text x="2.4" y="6.9" font-size="6.9" font-weight="bold" font-style="italic" fill="#f08a00">EX</text>
<path d="M1.4,8.0 H12.6 V12.0 Q12.6,12.6 12.0,12.6 H2.0 Q1.4,12.6 1.4,12.0 Z" fill="#f6a834"/>
<path d="M1.6,10.6 Q6.0,7.6 12.4,10.4 M3.0,11.8 H10.0" fill="none" stroke="#fff" stroke-width="0.8"/>
</g>
<rect x="270.70" y="179.90" width="12.30" height="12.80" rx="1.3" fill="#66b63a" stroke="#4a4a4a" stroke-width="0.9"/>
<g transform="translate(270.20,179.40) scale(1.000,1.000)">
<rect x="2.2" y="1.7" width="8.9" height="1.5" fill="#dfeeda"/>
<circle cx="6.6" cy="8.0" r="4.1" fill="none" stroke="#fff" stroke-width="0.9"/>
<path d="M4.4,10.0 L5.6,7.4 L6.6,8.6 L8.6,5.4 L8.9,7.8 L7.6,10.4 Z" fill="#fff"/>
</g>
<rect x="285.00" y="179.50" width="13.20" height="13.20" rx="0.8" fill="#1e63b8" stroke="none" stroke-width="0"/>
<g transform="translate(285.00,179.50) scale(0.978,0.992)">
<text x="0.9" y="8.7" font-size="6.9" font-weight="bold" font-style="italic" fill="#fff" textLength="11.7" lengthAdjust="spacingAndGlyphs">Skip</text>
<path d="M3.4,10.6 H10.2" stroke="#cfe0f5" stroke-width="0.5"/>
</g>
<circle cx="110.1" cy="179.0" r="5.9" fill="#6a1783"/>
<text x="110.2" y="182.25" font-size="8.8" font-weight="bold" text-anchor="middle" fill="#fff">1</text>
<circle cx="180.4" cy="230.8" r="6.0" fill="#6a1783"/>
<text x="180.4" y="234.05" font-size="8.8" font-weight="bold" text-anchor="middle" fill="#fff">2</text>
<rect x="330.2" y="227.6" width="29.0" height="11.6" rx="0.8" fill="#f6c400" stroke="#3a3226" stroke-width="0.9"/>
<text x="344.7" y="236.2" font-size="8.5" font-weight="bold" text-anchor="middle" fill="#231815">改札口</text>
<text x="92.8" y="118.6" font-size="9.4" font-weight="bold" fill="#231815">北口駅前広場</text>
<text x="37" y="245.2" font-size="9.2" font-weight="bold" fill="#231815">金沢方面</text>
<text x="132.1" y="279.4" font-size="9.2" font-weight="bold" fill="#231815">高岡方面</text>
<text x="295" y="413.8" font-size="9.2" font-weight="bold" fill="#231815">城端方面</text>
<text x="562" y="70.7" font-size="9.3" font-weight="bold" fill="#231815">富山・東京方面</text>
<text x="353.2" y="315.3" font-size="9.4" font-weight="bold" fill="#231815">南口駅前広場</text>
<text x="211.8" y="348.4" font-size="12.4" fill="#231815" stroke="#231815" stroke-width="0.3" stroke-linejoin="round">城端線</text>
<text x="141.8" y="197.2" font-size="9.4" fill="#231815" stroke="#231815" stroke-width="0.22" stroke-linejoin="round">観光案内所</text>
<text x="190.2" y="188.0" font-size="9" fill="#4f2a20" stroke="#4f2a20" stroke-width="0.1" stroke-linejoin="round">北口</text>
<text x="304" y="182.8" font-size="9.2" fill="#231815" stroke="#231815" stroke-width="0.4" stroke-linejoin="round">駅務室</text>
<text x="271.2" y="256.2" font-size="9" fill="#231815" stroke="#231815" stroke-width="0.22" stroke-linejoin="round">自由通路</text>
<text x="255.3" y="279.0" font-size="9" fill="#231815" stroke="#231815" stroke-width="0.22" stroke-linejoin="round">コンビニ</text>
<text x="305.5" y="278.4" font-size="9" fill="#4f2a20" stroke="#4f2a20" stroke-width="0.1" stroke-linejoin="round">南口</text>
<text x="335.6" y="258.9" font-size="9" fill="#231815" stroke="#231815" stroke-width="0.22" stroke-linejoin="round">店舗</text>
<text x="398" y="27.9" font-size="9.2" fill="#231815" stroke="#231815" stroke-width="0.22" stroke-linejoin="round">待合室</text>
<text x="487.4" y="113.3" font-size="9.2" fill="#231815" stroke="#231815" stroke-width="0.22" stroke-linejoin="round">待合室</text>
<text x="427.6" y="149.9" font-size="9.2" fill="#231815" stroke="#231815" stroke-width="0.22" stroke-linejoin="round">待合室</text>
<text x="564" y="324.1" font-size="9.2" fill="#231815" stroke="#231815" stroke-width="0.25" stroke-linejoin="round">駅レンタカー</text>
<text x="610.3" y="333.8" font-size="9.3" text-anchor="middle" fill="#231815" stroke="#231815" stroke-width="0.25" stroke-linejoin="round">（日産レンタカー店内）</text>
</svg>
</body></html>
